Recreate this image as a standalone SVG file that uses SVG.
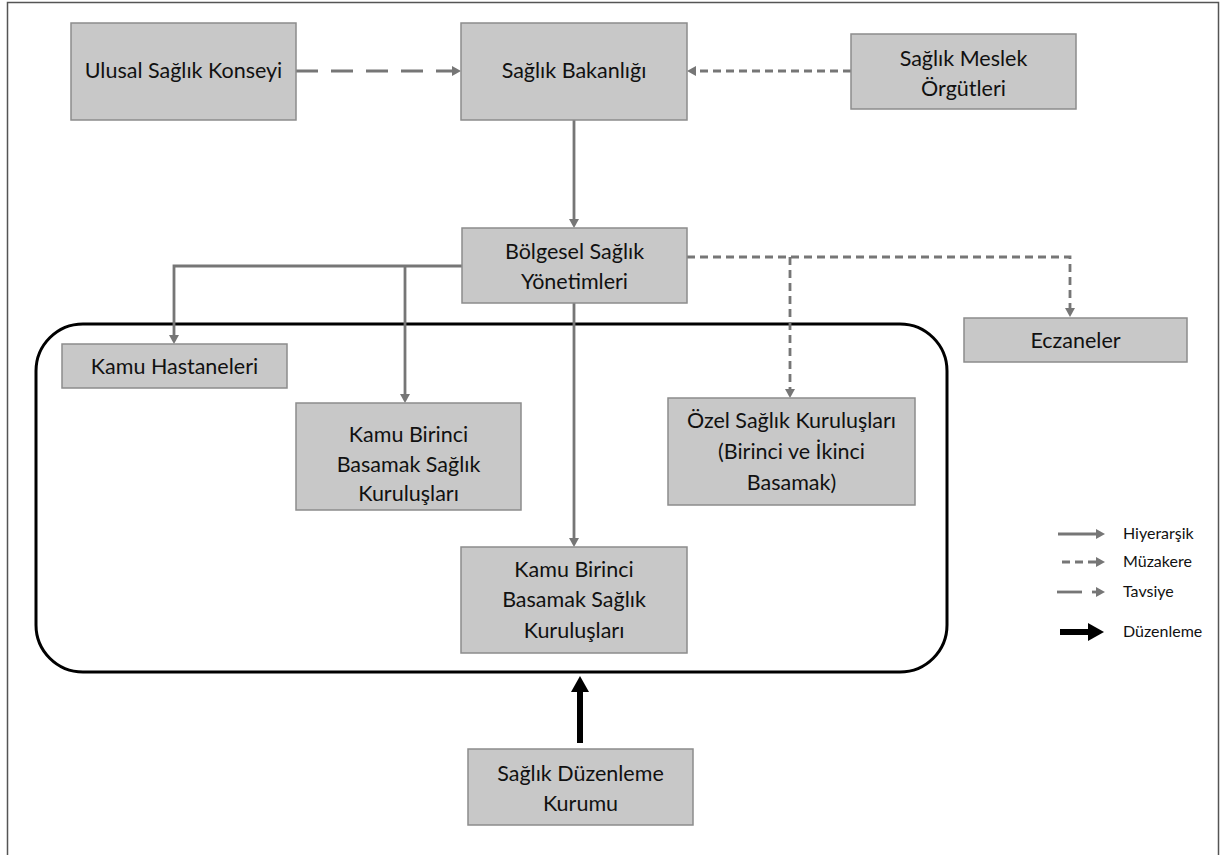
<svg xmlns="http://www.w3.org/2000/svg" width="1221" height="855" viewBox="0 0 1221 855">
<style>
.box{fill:#c8c8c8;stroke:#8c8c8c;stroke-width:1.5}
.t{font-family:Lato,"Liberation Sans",sans-serif;font-size:21.5px;fill:#111;text-anchor:middle}
.lg{font-family:Lato,"Liberation Sans",sans-serif;font-size:16px;fill:#111}
.c{fill:none;stroke:#767676;stroke-width:2.8}
.mz{stroke-dasharray:8 5}
.tv{stroke-dasharray:22 13}
.dz{fill:none;stroke:#000;stroke-width:6}
</style>
<defs>
<marker id="ag" markerUnits="userSpaceOnUse" markerWidth="12" markerHeight="12" refX="2" refY="5" orient="auto">
<path d="M0,0 L9,5 L0,10 z" fill="#767676"/>
</marker>
<marker id="ab" markerUnits="userSpaceOnUse" markerWidth="20" markerHeight="20" refX="2" refY="9" orient="auto">
<path d="M0,0 L16,9 L0,18 z" fill="#000"/>
</marker>
</defs>
<rect x="7.5" y="2.5" width="1211" height="870" fill="#fff" stroke="#555" stroke-width="1.5"/>
<rect id="container" x="36" y="324" width="911" height="348" rx="47" ry="47" fill="none" stroke="#000" stroke-width="3"/>
<g id="connectors">
<path class="c tv" d="M296,71 H454" marker-end="url(#ag)"/>
<path class="c mz" d="M851,71 H694" marker-end="url(#ag)"/>
<path class="c" d="M574,120 V221" marker-end="url(#ag)"/>
<path class="c" d="M462,266 H174 V337" marker-end="url(#ag)"/>
<path class="c" d="M405,266 V396" marker-end="url(#ag)"/>
<path class="c" d="M574,303 V540" marker-end="url(#ag)"/>
<path class="c mz" d="M687,257 H1070 V310" marker-end="url(#ag)"/>
<path class="c mz" d="M790,257 V391" marker-end="url(#ag)"/>
<path class="dz" d="M580,743 V690" marker-end="url(#ab)"/>
</g>
<g id="n1"><rect class="box" x="71" y="23" width="225" height="97"/><text class="t" x="183.5" y="78">Ulusal Sağlık Konseyi</text></g>
<g id="n2"><rect class="box" x="461" y="23" width="226" height="97"/><text class="t" x="574" y="78">Sağlık Bakanlığı</text></g>
<g id="n3"><rect class="box" x="851" y="34" width="225" height="75"/><text class="t" x="963.5" y="66">Sağlık Meslek</text><text class="t" x="963.5" y="96">Örgütleri</text></g>
<g id="n4"><rect class="box" x="462" y="228" width="225" height="75"/><text class="t" x="574.5" y="259">Bölgesel Sağlık</text><text class="t" x="574.5" y="289">Yönetimleri</text></g>
<g id="n5"><rect class="box" x="62" y="344" width="225" height="44"/><text class="t" x="174.5" y="374">Kamu Hastaneleri</text></g>
<g id="n6"><rect class="box" x="964" y="318" width="223" height="44"/><text class="t" x="1075.5" y="348">Eczaneler</text></g>
<g id="n7"><rect class="box" x="296" y="403" width="225" height="107"/><text class="t" x="408.5" y="442">Kamu Birinci</text><text class="t" x="408.5" y="472">Basamak Sağlık</text><text class="t" x="408.5" y="501">Kuruluşları</text></g>
<g id="n8"><rect class="box" x="668" y="398" width="247" height="107"/><text class="t" x="791.5" y="428">Özel Sağlık Kuruluşları</text><text class="t" x="791.5" y="459">(Birinci ve İkinci</text><text class="t" x="791.5" y="490">Basamak)</text></g>
<g id="n9"><rect class="box" x="461" y="547" width="226" height="106"/><text class="t" x="574" y="577">Kamu Birinci</text><text class="t" x="574" y="607">Basamak Sağlık</text><text class="t" x="574" y="638">Kuruluşları</text></g>
<g id="n10"><rect class="box" x="468" y="749" width="225" height="76"/><text class="t" x="580.5" y="781">Sağlık Düzenleme</text><text class="t" x="580.5" y="811">Kurumu</text></g>
<g id="legend">
<path class="c" d="M1058,534 H1098" marker-end="url(#ag)"/>
<path class="c mz" d="M1062,562 H1098" marker-end="url(#ag)"/>
<path class="c" d="M1057,592 H1082"/>
<path class="c" d="M1092,592 H1098" marker-end="url(#ag)"/>
<path class="dz" d="M1060,632 H1090" stroke-width="5" marker-end="url(#ab)"/>
<text class="lg" x="1123" y="539">Hiyerarşik</text>
<text class="lg" x="1123" y="567">Müzakere</text>
<text class="lg" x="1123" y="597">Tavsiye</text>
<text class="lg" x="1123" y="637">Düzenleme</text>
</g>
</svg>
